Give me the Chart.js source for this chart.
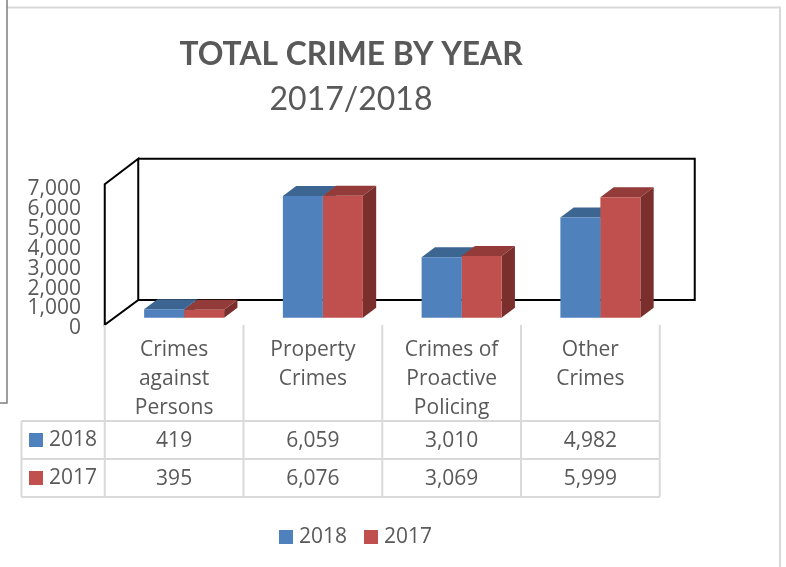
<!DOCTYPE html>
<html><head><meta charset="utf-8">
<style>html,body{margin:0;padding:0;background:#fff}canvas{display:block}</style>
<script src="https://cdn.jsdelivr.net/npm/chart.js@4/dist/chart.umd.min.js"></script>
</head><body><canvas id="c" width="786" height="567"></canvas>
<script>
const categoryLabels = [['Crimes','against','Persons'],['Property','Crimes'],['Crimes of','Proactive','Policing'],['Other','Crimes']];
const seriesNames = ['2018','2017'];
const values2018 = [419,6059,3010,4982];
const values2017 = [395,6076,3069,5999];
const axisTicks = [0,1000,2000,3000,4000,5000,6000,7000];
const frontColors = ['#4F81BD','#C0504D'];
const topColors = ['#3D6591','#923B39'];
const sideColors = ['#335577','#7A2F2D'];
const FONT = '"Open Sans"';
const GREY = '#595959';
const LINE = '#D9D9D9';
const DX = 13.3, DY = 10;        // bar depth

function poly(ctx, pts, fill){
  ctx.beginPath(); pts.forEach((p,i)=> i?ctx.lineTo(p[0],p[1]):ctx.moveTo(p[0],p[1]));
  ctx.closePath(); ctx.fillStyle=fill; ctx.fill();
}
const extras = {
  id:'extras',
  afterLayout(chart){
    const spots = {'TOTAL CRIME BY YEAR':36,'2017/2018':80};
    chart.boxes.forEach(b=>{
      if(b.options && spots[b.options.text]!==undefined){
        b.left=151; b.right=551; b.top=spots[b.options.text]; b.bottom=b.top+b.height;
      }
    });
  },
  beforeDatasetsDraw(chart){
    const ctx=chart.ctx, a=chart.chartArea;
    const fx=a.left-10, top=a.top-4.3, bot=a.bottom-3.8;
    // page frame lines
    ctx.save();
    ctx.strokeStyle='#D9D9D9'; ctx.lineWidth=2;
    ctx.beginPath(); ctx.moveTo(7,7.5); ctx.lineTo(780,7.5); ctx.lineTo(780,567); ctx.stroke();
    ctx.strokeStyle='#7F7F7F'; ctx.lineWidth=1.5;
    ctx.beginPath(); ctx.moveTo(7,0); ctx.lineTo(7,403); ctx.lineTo(0,403); ctx.stroke();
    // 3D walls
    ctx.strokeStyle='#000'; ctx.lineWidth=2; ctx.lineJoin='miter';
    const bx=fx+33.5, by=bot-24.7, ty=top-25.5, rx=a.right+25;
    ctx.beginPath();
    ctx.moveTo(fx,bot); ctx.lineTo(fx,top); ctx.lineTo(bx,ty); ctx.lineTo(bx,by); ctx.closePath();
    ctx.moveTo(bx,ty); ctx.lineTo(rx,ty); ctx.lineTo(rx,by); ctx.lineTo(bx,by);
    ctx.stroke();
    // bar depth faces
    [0,1].forEach(d=>{
      chart.getDatasetMeta(d).data.forEach(el=>{
        const p=el.getProps(['x','y','base','width'],true);
        const l=p.x-p.width/2, r=p.x+p.width/2;
        poly(ctx,[[l,p.y],[l+DX,p.y-DY],[r+DX,p.y-DY],[r,p.y]],topColors[d]);
        poly(ctx,[[r,p.y],[r+DX,p.y-DY],[r+DX,p.base-DY],[r,p.base]],sideColors[d]);
      });
    });
    ctx.restore();
  },
  afterDatasetsDraw(chart){
    const ctx=chart.ctx, xs=chart.scales.x;
    const band=xs.getPixelForValue(1)-xs.getPixelForValue(0);
    const centers=categoryLabels.map((_,i)=>xs.getPixelForValue(i)-10);
    const edges=[centers[0]-band/2].concat(centers.map(c=>c+band/2));
    const rowTop=421, rowH=38, tableTop=325, tableLeft=21.5;
    ctx.save();
    ctx.strokeStyle=LINE; ctx.lineWidth=2;
    ctx.beginPath();
    edges.forEach(x=>{ctx.moveTo(x,tableTop);ctx.lineTo(x,rowTop+2*rowH);});
    [0,1,2].forEach(i=>{ctx.moveTo(tableLeft,rowTop+i*rowH);ctx.lineTo(edges[4],rowTop+i*rowH);});
    ctx.moveTo(tableLeft,rowTop);ctx.lineTo(tableLeft,rowTop+2*rowH);
    ctx.stroke();
    ctx.font='21px '+FONT; ctx.fillStyle=GREY; ctx.textBaseline='middle'; ctx.textAlign='center';
    categoryLabels.forEach((lines,i)=>lines.forEach((t,j)=>ctx.fillText(t,centers[i],350+j*29)));
    [values2018,values2017].forEach((vals,r)=>{
      const y=rowTop+rowH*r+19;
      vals.forEach((v,i)=>ctx.fillText(v.toLocaleString('en-US'),centers[i],y+1.5));
      ctx.fillStyle=frontColors[r]; ctx.fillRect(29,y-7,14,14);
      ctx.fillStyle=GREY; ctx.textAlign='left';
      ctx.fillText(seriesNames[r],49,y+0.5);
      ctx.textAlign='center';
    });
    // legend
    ctx.textAlign='left';
    [[279,299],[364,384]].forEach((p,i)=>{
      ctx.fillStyle=frontColors[i]; ctx.fillRect(p[0],530,14,14);
      ctx.fillStyle=GREY; ctx.fillText(seriesNames[i],p[1],537.5);
    });
    ctx.restore();
  }
};
new Chart(document.getElementById('c'),{
  type:'bar',
  data:{labels:categoryLabels.map(l=>l.join(' ')),datasets:[
    {label:seriesNames[0],data:values2018,backgroundColor:frontColors[0],yAxisID:'y2'},
    {label:seriesNames[1],data:values2017,backgroundColor:frontColors[1],yAxisID:'y2'}
  ]},
  options:{
    responsive:false,animation:false,
    layout:{autoPadding:false,padding:{top:112,left:0,right:116.25,bottom:238.5}},
    datasets:{bar:{categoryPercentage:0.5766,barPercentage:1}},
    plugins:{
      legend:{display:false},tooltip:{enabled:false},
      title:{display:true,text:'TOTAL CRIME BY YEAR',color:GREY,padding:0,
        font:{family:'Lato',size:31.8,weight:'bold',lineHeight:1.2}},
      subtitle:{display:true,text:'2017/2018',color:GREY,padding:0,
        font:{family:'Lato',size:32,weight:'normal',lineHeight:1.2}}
    },
    scales:{
      x:{display:false,offset:true,grid:{display:false}},
      y:{min:0,max:7000,position:'left',
        afterFit(s){s.width=114.75;},
        afterBuildTicks(s){s.ticks=axisTicks.map(v=>({value:v}));},
        grid:{display:false,drawTicks:false},border:{display:false},
        ticks:{padding:33.75,color:GREY,autoSkip:false,font:{family:FONT,size:21},
          callback:v=>v.toLocaleString('en-US')}},
      y2:{display:false,min:-537,max:6428}
    }
  },
  plugins:[extras]
});
</script></body></html>
